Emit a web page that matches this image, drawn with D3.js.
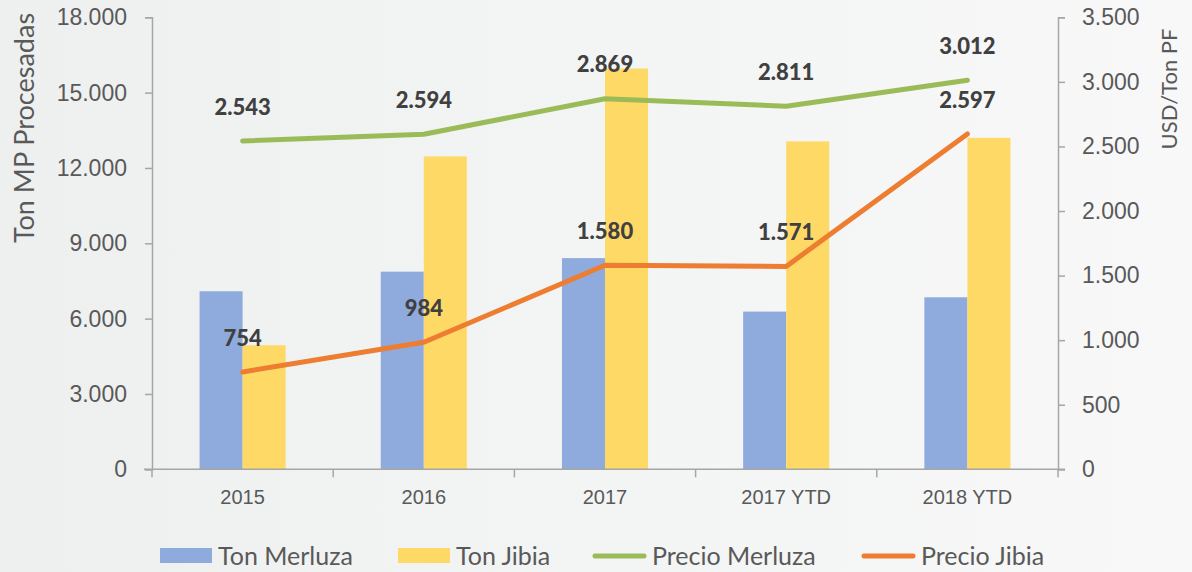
<!DOCTYPE html>
<html>
<head>
<meta charset="utf-8">
<script src="https://cdn.jsdelivr.net/npm/d3@7"></script>
<style>
  html, body { margin: 0; padding: 0; background: #f3f4f4; }
  svg { display: block; font-family: Lato, "Open Sans", sans-serif; }
</style>
</head>
<body>
<svg id="chart" width="1192" height="572"></svg>
<script>
// Categories and series
const categories = ["2015", "2016", "2017", "2017 YTD", "2018 YTD"];
const tonMerluza = [7090, 7870, 8410, 6280, 6850];
const tonJibia = [4940, 12460, 15960, 13060, 13200];
const precioMerluza = [2543, 2594, 2869, 2811, 3012];
const precioJibia = [754, 984, 1580, 1571, 2597];
const leftTicks = [0, 3000, 6000, 9000, 12000, 15000, 18000];
const rightTicks = [0, 500, 1000, 1500, 2000, 2500, 3000, 3500];
const seriesNames = ["Ton Merluza", "Ton Jibia", "Precio Merluza", "Precio Jibia"];

const colors = {
  merluzaBar: "#8faadc",
  jibiaBar: "#ffd966",
  merluzaLine: "#9bbb59",
  jibiaLine: "#ed7d31"
};

const fmt = v => d3.format(",")(v).replace(/,/g, ".");

const svg = d3.select("#chart");
const W = 1192, H = 572;
const m = { left: 152, right: 1058, top: 17.3, bottom: 469.3 };

// soft background wash
const defs = svg.append("defs");
const grad = defs.append("linearGradient").attr("id", "bg").attr("x1", "0").attr("x2", "1").attr("y1", "0").attr("y2", "0");
grad.append("stop").attr("offset", "0").attr("stop-color", "#eef0f0");
grad.append("stop").attr("offset", "1").attr("stop-color", "#f8f8f8");
svg.append("rect").attr("width", W).attr("height", H).attr("fill", "url(#bg)");

const x = d3.scaleBand().domain(categories).range([m.left, m.right]).padding(0);
const xSub = d3.scaleBand().domain(["merluza", "jibia"])
  .range([x.bandwidth() * 0.2625, x.bandwidth() * 0.7375]).padding(0);
const yL = d3.scaleLinear().domain([0, 18000]).range([m.bottom, m.top]);
const yR = d3.scaleLinear().domain([0, 3500]).range([m.bottom, m.top]);

const axisColor = "#a6a6a6";
const tickText = "#595959";

// Bars
const g = svg.append("g");
const groups = g.selectAll("g.cat").data(categories).join("g")
  .attr("transform", d => `translate(${x(d)},0)`);
groups.append("rect")
  .attr("x", xSub("merluza")).attr("width", xSub.bandwidth())
  .attr("y", (d, i) => yL(tonMerluza[i]))
  .attr("height", (d, i) => yL(0) - yL(tonMerluza[i]))
  .attr("fill", colors.merluzaBar);
groups.append("rect")
  .attr("x", xSub("jibia")).attr("width", xSub.bandwidth())
  .attr("y", (d, i) => yL(tonJibia[i]))
  .attr("height", (d, i) => yL(0) - yL(tonJibia[i]))
  .attr("fill", colors.jibiaBar);

// Left axis
const leftAxis = svg.append("g").attr("transform", `translate(${m.left},0)`)
  .call(d3.axisLeft(yL).tickValues(leftTicks).tickFormat(fmt).tickSizeOuter(0).tickSize(7).tickPadding(18));
leftAxis.select(".domain").attr("stroke", axisColor).attr("stroke-width", 1.5);
leftAxis.selectAll(".tick line").attr("stroke", axisColor).attr("stroke-width", 1.5);
leftAxis.selectAll(".tick text").attr("fill", tickText).style("font-size", "23px");

// Right axis
const rightAxis = svg.append("g").attr("transform", `translate(${m.right},0)`)
  .call(d3.axisRight(yR).tickValues(rightTicks).tickFormat(fmt).tickSizeOuter(0).tickSize(7).tickPadding(17));
rightAxis.select(".domain").attr("stroke", axisColor).attr("stroke-width", 1.5);
rightAxis.selectAll(".tick line").attr("stroke", axisColor).attr("stroke-width", 1.5);
rightAxis.selectAll(".tick text").attr("fill", tickText).style("font-size", "23px");

// Category axis
const bottomAxis = svg.append("g").attr("transform", `translate(0,${m.bottom})`)
  .call(d3.axisBottom(x).tickSize(0).tickPadding(21));
bottomAxis.select(".domain").remove();
bottomAxis.selectAll(".tick text").attr("fill", tickText).style("font-size", "20px");
svg.append("line").attr("x1", m.left - 8).attr("x2", m.right + 7)
  .attr("y1", m.bottom).attr("y2", m.bottom)
  .attr("stroke", axisColor).attr("stroke-width", 1.5);
const bounds = categories.map(c => x(c)).concat([m.right]);
svg.append("g").selectAll("line").data(bounds).join("line")
  .attr("x1", d => d).attr("x2", d => d)
  .attr("y1", m.bottom).attr("y2", m.bottom + 8)
  .attr("stroke", axisColor).attr("stroke-width", 1.5);

// Axis titles
svg.append("text")
  .attr("transform", `translate(34,128) rotate(-90)`)
  .attr("text-anchor", "middle")
  .attr("fill", tickText).style("font-size", "27px")
  .text("Ton MP Procesadas");
svg.append("text")
  .attr("transform", `translate(1177,89) rotate(-90)`)
  .attr("text-anchor", "middle")
  .attr("fill", tickText).style("font-size", "22px")
  .text("USD/Ton PF");

// Price lines
const cx = c => x(c) + x.bandwidth() / 2;
function drawLine(values, color) {
  const line = d3.line().x((d, i) => cx(categories[i])).y(d => yR(d));
  svg.append("path").datum(values)
    .attr("d", line).attr("fill", "none")
    .attr("stroke", color).attr("stroke-width", 5)
    .attr("stroke-linejoin", "round").attr("stroke-linecap", "round");
  svg.append("g").selectAll("text").data(values).join("text")
    .attr("x", (d, i) => cx(categories[i]))
    .attr("y", d => yR(d) - 34)
    .attr("dy", "0.35em")
    .attr("text-anchor", "middle")
    .attr("fill", "#404040")
    .style("font-size", "22px").style("font-weight", "900")
    .text(d => fmt(d));
}
drawLine(precioMerluza, colors.merluzaLine);
drawLine(precioJibia, colors.jibiaLine);

// Legend
const legendY = 556;
const legendItems = [
  { name: seriesNames[0], type: "rect", color: colors.merluzaBar, x: 160 },
  { name: seriesNames[1], type: "rect", color: colors.jibiaBar, x: 398 },
  { name: seriesNames[2], type: "line", color: colors.merluzaLine, x: 593 },
  { name: seriesNames[3], type: "line", color: colors.jibiaLine, x: 862 }
];
const lg = svg.append("g").selectAll("g").data(legendItems).join("g")
  .attr("transform", d => `translate(${d.x},${legendY})`);
lg.filter(d => d.type === "rect").append("rect")
  .attr("x", 0).attr("y", -8).attr("width", 52).attr("height", 15)
  .attr("fill", d => d.color);
lg.filter(d => d.type === "line").append("line")
  .attr("x1", 2).attr("x2", 51).attr("y1", 0).attr("y2", 0)
  .attr("stroke", d => d.color).attr("stroke-width", 5).attr("stroke-linecap", "round");
lg.append("text")
  .attr("x", d => d.type === "rect" ? 58 : 59)
  .attr("y", 0).attr("dy", "0.35em")
  .attr("fill", tickText).style("font-size", "25px")
  .text(d => d.name);
</script>
</body>
</html>
